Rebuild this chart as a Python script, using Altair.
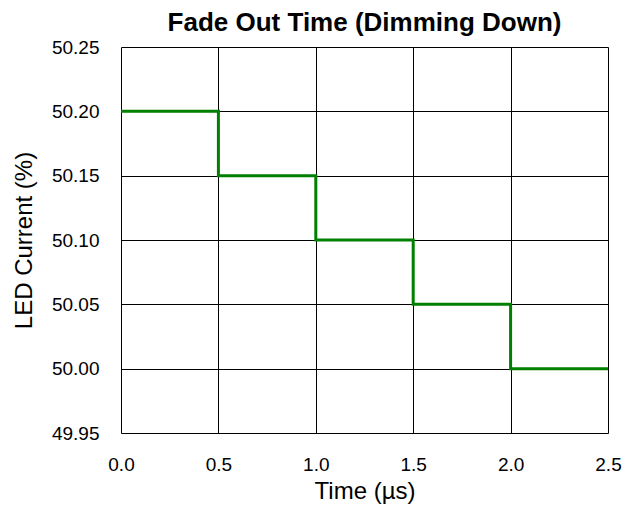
import altair as alt
import pandas as pd

time_us = [0.0, 0.5, 1.0, 1.5, 2.0, 2.5]
led_current = [50.20, 50.15, 50.10, 50.05, 50.00, 50.00]
x_ticks = [0.0, 0.5, 1.0, 1.5, 2.0, 2.5]
y_ticks = [49.95, 50.00, 50.05, 50.10, 50.15, 50.20, 50.25]

df = pd.DataFrame({"t": time_us, "i": led_current})

FONT = "Liberation Sans"
PLOT_W, PLOT_H = 487, 386
PAD_L, PAD_T = 113, 39
SVG_W, SVG_H = 614, 496

chart = alt.Chart(df).mark_line(
    interpolate="step-after", color="#008000", strokeWidth=3, clip=True
).encode(
    x=alt.X("t:Q", title="Time (µs)",
            scale=alt.Scale(domain=[0, 2.5], nice=False, zero=False),
            axis=alt.Axis(values=x_ticks, format=".1f", labelFlush=False,
                          grid=True, gridColor="#000000", gridOpacity=1, gridWidth=1,
                          domain=False, ticks=False, tickSize=0,
                          labelFont=FONT, labelFontSize=19, labelColor="#000000",
                          titleFont=FONT, titleFontSize=24, titleFontWeight="normal",
                          titleColor="#000000", labelPadding=22, titlePadding=5)),
    y=alt.Y("i:Q", title="LED Current (%)",
            scale=alt.Scale(domain=[49.95, 50.25], nice=False, zero=False),
            axis=alt.Axis(values=y_ticks, format=".2f", labelFlush=False,
                          grid=True, gridColor="#000000", gridOpacity=1, gridWidth=1,
                          domain=False, ticks=False, tickSize=0,
                          labelFont=FONT, labelFontSize=19, labelColor="#000000",
                          titleFont=FONT, titleFontSize=24, titleFontWeight="normal",
                          titleColor="#000000", labelPadding=22, titlePadding=15)),
).properties(
    width=PLOT_W, height=PLOT_H,
    autosize=alt.AutoSizeParams(type="none"),
    padding={"left": PAD_L, "top": PAD_T,
             "right": SVG_W - PAD_L - PLOT_W, "bottom": SVG_H - PAD_T - PLOT_H},
    title=alt.TitleParams("Fade Out Time (Dimming Down)", font=FONT, fontSize=26,
                          fontWeight="bold", color="#000000", anchor="middle", offset=2),
).configure_view(stroke=None)

chart.save("out.html", embed_options={"renderer": "svg", "actions": False})
